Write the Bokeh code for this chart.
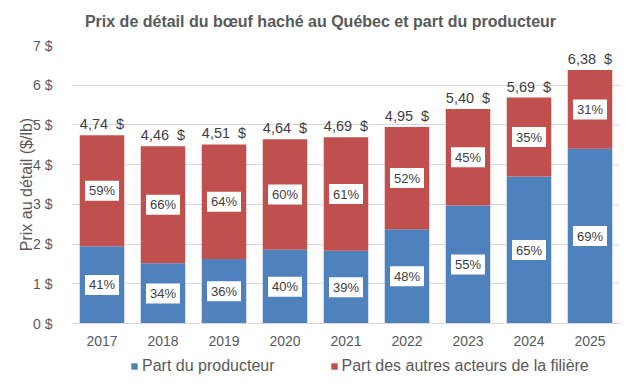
from bokeh.plotting import figure
from bokeh.layouts import column
from bokeh.models import (ColumnDataSource, Legend, LegendItem, Label,
                          FixedTicker, FactorRange, Range1d)
from bokeh.core.properties import value
from bokeh.embed import file_html
from bokeh.resources import INLINE

# ---- data ----
years = ["2017", "2018", "2019", "2020", "2021", "2022", "2023", "2024", "2025"]
totals = [4.74, 4.46, 4.51, 4.64, 4.69, 4.95, 5.40, 5.69, 6.38]
prod_pct = [41, 34, 36, 40, 39, 48, 55, 65, 69]
other_pct = [59, 66, 64, 60, 61, 52, 45, 35, 31]
y_ticks = [0, 1, 2, 3, 4, 5, 6, 7]
y_tick_labels = ["0 $", "1 $", "2 $", "3 $", "4 $", "5 $", "6 $", "7 $"]
series_names = ["Part du producteur", "Part des autres acteurs de la filière"]
title_text = "Prix de détail du bœuf haché au Québec et part du producteur"
y_label = "Prix au détail ($/lb)"

BLUE = "#4F81BD"
RED = "#C0504D"
TXT = "#595959"
DARK = "#404040"
GRID = "#D9D9D9"
FONT = "Liberation Sans"

prod = [t * p / 100 for t, p in zip(totals, prod_pct)]
prod_mid = [v / 2 for v in prod]
other_mid = [(v + t) / 2 for v, t in zip(prod, totals)]

src = ColumnDataSource(dict(
    year=years,
    prod=prod,
    total=totals,
    prod_mid=prod_mid,
    other_mid=other_mid,
    prod_lbl=[f"{v}%" for v in prod_pct],
    other_lbl=[f"{v}%" for v in other_pct],
    total_lbl=[f"{t:.2f}".replace(".", ",") + "\u00a0 $" for t in totals],
))


def strip(h):
    f = figure(width=624, height=h, output_backend="svg", toolbar_location=None,
               x_range=FactorRange(*years), y_range=Range1d(0, 1),
               min_border_left=71, min_border_right=4, min_border_top=0,
               min_border_bottom=0)
    f.x_range.range_padding = 0
    f.axis.visible = False
    f.grid.visible = False
    f.outline_line_color = None
    f.background_fill_color = "white"
    f.border_fill_color = "white"
    return f


# ---- title strip ----
tt = strip(30)
tt.add_layout(Label(x=249, y=9, x_units="screen", y_units="screen",
                    text=title_text, text_align="center",
                    text_baseline="alphabetic", text_font=FONT,
                    text_font_size="16px", text_font_style="bold",
                    text_color=TXT))

# ---- main chart ----
p = figure(x_range=FactorRange(*years), y_range=Range1d(0, 7),
           width=624, height=319, output_backend="svg", toolbar_location=None,
           min_border_left=71, min_border_right=4, min_border_top=15,
           min_border_bottom=26)
p.x_range.range_padding = 0
p.background_fill_color = "white"
p.border_fill_color = "white"
p.outline_line_color = None

p.vbar(x="year", bottom=0, top="prod", width=0.73, fill_color=BLUE,
       line_color=None, source=src)
p.vbar(x="year", bottom="prod", top="total", width=0.73,
       fill_color=RED, line_color=None, source=src)

# white label boxes
for ycol in ("prod_mid", "other_mid"):
    p.rect(x="year", y=ycol, width=34, height=20, width_units="screen",
           height_units="screen", fill_color="white", line_color=None,
           source=src)
p.text(x="year", y="prod_mid", text="prod_lbl", text_align="center",
       text_baseline="middle", text_font=value(FONT), text_font_size="13px",
       text_color=DARK, source=src)
p.text(x="year", y="other_mid", text="other_lbl", text_align="center",
       text_baseline="middle", text_font=value(FONT), text_font_size="13px",
       text_color=DARK, source=src)
p.text(x="year", y="total", text="total_lbl", text_align="center",
       text_baseline="alphabetic", y_offset=-11, text_font=value(FONT),
       text_font_size="14.5px", text_color=DARK, source=src)

# axes
p.xgrid.visible = False
p.ygrid.grid_line_color = GRID
p.ygrid.ticker = FixedTicker(ticks=y_ticks)

p.xaxis.axis_line_color = GRID
p.xaxis.major_tick_line_color = None
p.xaxis.minor_tick_line_color = None
p.xaxis.major_label_text_font = FONT
p.xaxis.major_label_text_font_size = "14px"
p.xaxis.major_label_text_color = TXT
p.xaxis.major_label_standoff = 6

p.yaxis.ticker = FixedTicker(ticks=y_ticks)
p.yaxis.major_label_overrides = {t: l for t, l in zip(y_ticks, y_tick_labels)}
p.yaxis.axis_line_color = None
p.yaxis.major_tick_line_color = None
p.yaxis.minor_tick_line_color = None
p.yaxis.major_label_text_font = FONT
p.yaxis.major_label_text_font_size = "14px"
p.yaxis.major_label_text_color = TXT
p.yaxis.major_label_standoff = 13
p.yaxis.axis_label = y_label
p.yaxis.axis_label_text_font = FONT
p.yaxis.axis_label_text_font_size = "16px"
p.yaxis.axis_label_text_font_style = "normal"
p.yaxis.axis_label_text_color = TXT
p.yaxis.axis_label_standoff = -5

# ---- legend strip ----
lg = strip(26)
# zero-height bars: only their legend swatches are seen
d_prod = lg.vbar(x="year", bottom=0, top=0, width=0.73, fill_color=BLUE,
                 line_color=None, source=src)
d_other = lg.vbar(x="year", bottom=0, top=0, width=0.73, fill_color=RED,
                  line_color=None, source=src)
legend = Legend(items=[LegendItem(label=series_names[0], renderers=[d_prod]),
                       LegendItem(label=series_names[1], renderers=[d_other])],
                orientation="horizontal", location=(59, 0),
                glyph_width=8, glyph_height=8, label_standoff=4, spacing=55,
                padding=0, margin=0, border_line_color=None,
                background_fill_alpha=0, label_text_font=FONT,
                label_text_font_size="16px", label_text_color=TXT)
lg.add_layout(legend)

layout = column(tt, p, lg, spacing=0)
open("out.html", "w").write(file_html(layout, INLINE))
